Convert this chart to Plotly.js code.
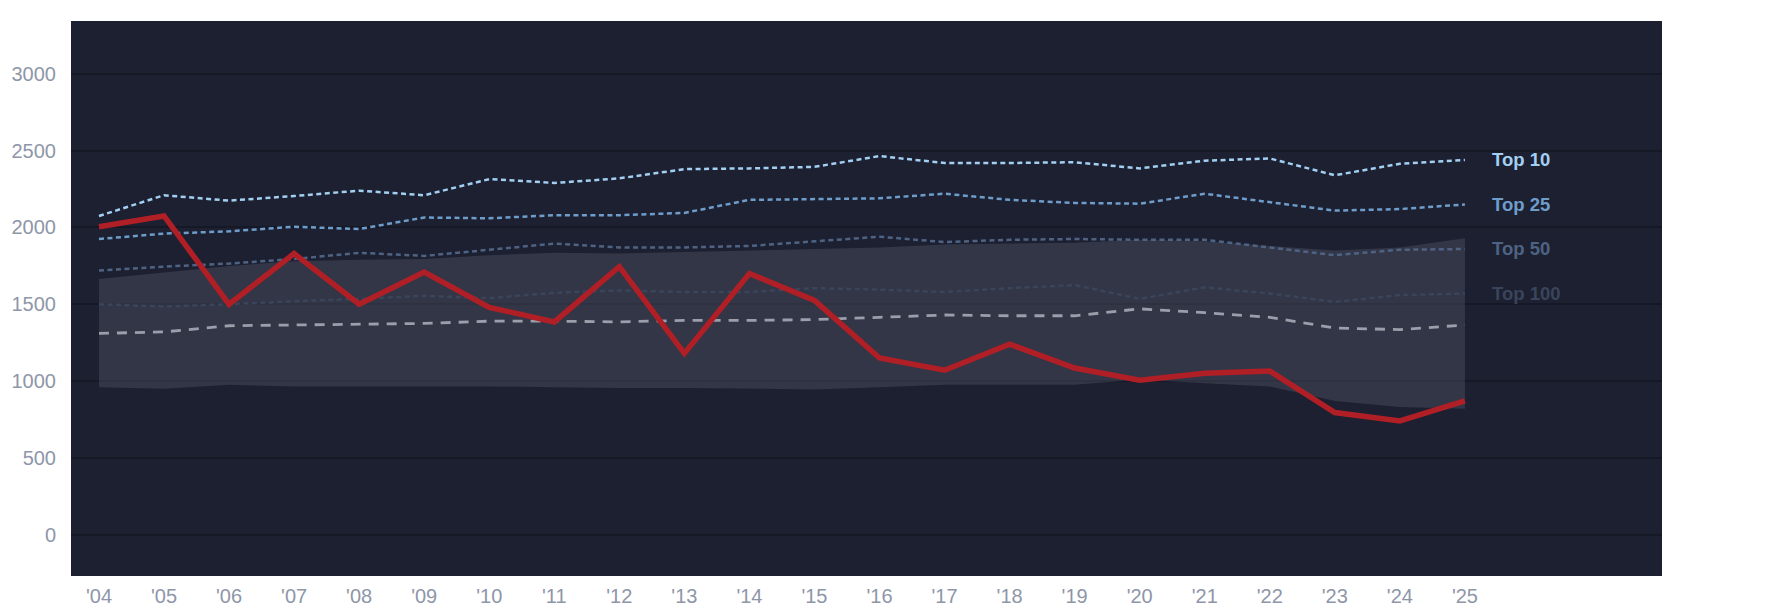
<!DOCTYPE html>
<html>
<head>
<meta charset="utf-8">
<script src="https://cdn.plot.ly/plotly-3.0.1.min.js"></script>
<style>html,body{margin:0;padding:0;background:#fff;}#chart{width:1785px;height:614px;}</style>
</head>
<body>
<div id="chart"></div>
<script>
const years = [2004,2005,2006,2007,2008,2009,2010,2011,2012,2013,2014,2015,2016,2017,2018,2019,2020,2021,2022,2023,2024,2025];
const yearLabels = ["'04","'05","'06","'07","'08","'09","'10","'11","'12","'13","'14","'15","'16","'17","'18","'19","'20","'21","'22","'23","'24","'25"];
const bandLow  = [960,950,975,965,965,965,965,960,955,955,950,945,960,975,975,975,1010,985,965,870,830,820];
const bandHigh = [1665,1705,1750,1780,1790,1795,1820,1835,1830,1840,1850,1860,1870,1890,1895,1900,1920,1910,1880,1850,1870,1930];
const top10  = [2075,2210,2175,2205,2240,2210,2315,2290,2320,2380,2385,2395,2465,2420,2420,2425,2385,2435,2450,2340,2415,2440];
const top25  = [1925,1960,1975,2005,1990,2065,2060,2080,2080,2095,2180,2185,2190,2220,2180,2160,2155,2220,2165,2110,2120,2150];
const top50  = [1720,1745,1765,1795,1835,1815,1855,1895,1870,1870,1880,1910,1940,1905,1920,1925,1920,1920,1870,1820,1855,1860];
const top100 = [1500,1485,1500,1520,1535,1555,1540,1575,1590,1580,1580,1605,1595,1580,1605,1625,1535,1610,1570,1515,1560,1570];
const median = [1310,1320,1360,1365,1370,1375,1390,1390,1385,1395,1395,1400,1415,1430,1425,1425,1470,1445,1415,1345,1335,1365];
const team   = [2005,2075,1500,1830,1500,1710,1480,1385,1745,1180,1700,1525,1150,1070,1240,1085,1005,1050,1065,795,740,870];
const seriesNames = ["Top 10","Top 25","Top 50","Top 100"];

const tierColors = ["#a3cff2","#6e9dcb","#4e6383","#3a455b"];
const tierData = [top10, top25, top50, top100];

const traces = [];
traces.push({x: years, y: bandLow, mode:'lines', line:{width:0, color:'rgba(0,0,0,0)'}, hoverinfo:'skip', showlegend:false});
traces.push({x: years, y: bandHigh, mode:'lines', fill:'tonexty', fillcolor:'rgba(100,104,118,0.32)', line:{width:0, color:'rgba(0,0,0,0)'}, hoverinfo:'skip', showlegend:false});
tierData.forEach((d,i)=>{
  traces.push({x: years, y: d, mode:'lines', name: seriesNames[i], line:{color: tierColors[i], width:2.5, dash:'5px,3.5px'}, showlegend:false});
});
traces.push({x: years, y: median, mode:'lines', name:'Median', line:{color:'#9a9fab', width:2.8, dash:'10px,8px'}, showlegend:false});
traces.push({x: years, y: team, mode:'lines', name:'Team', line:{color:'#b01f26', width:5.5}, showlegend:false});

const annotations = tierData.map((d,i)=>({
  x: years[years.length-1], y: d[d.length-1], xref:'x', yref:'y', xanchor:'left', yanchor:'middle',
  xshift: 25, text: seriesNames[i], showarrow:false,
  font:{family:'Liberation Sans, Arial, sans-serif', size:18.5, color: tierColors[i], weight:'bold'}
}));

const layout = {
  width:1785, height:614,
  margin:{l:71, r:123, t:21, b:38},
  paper_bgcolor:'#ffffff', plot_bgcolor:'#1c2030',
  font:{family:'Liberation Sans, Arial, sans-serif', color:'#8e96a8', size:20},
  xaxis:{range:[2003.57,2028.03], tickvals: years, ticktext: yearLabels, showgrid:false, zeroline:false, showline:false, ticks:'', ticklabelstandoff:6, tickfont:{size:20, color:'#8e96a8'}},
  yaxis:{range:[-270,3345], tickvals:[0,500,1000,1500,2000,2500,3000], showgrid:true, gridcolor:'#151925', gridwidth:2, zeroline:true, zerolinecolor:'#151925', zerolinewidth:2, ticks:'', ticklabelstandoff:14, tickfont:{size:20, color:'#8e96a8'}},
  annotations: annotations,
  showlegend:false
};
Plotly.newPlot('chart', traces, layout, {displayModeBar:false, staticPlot:true});
</script>
</body>
</html>
